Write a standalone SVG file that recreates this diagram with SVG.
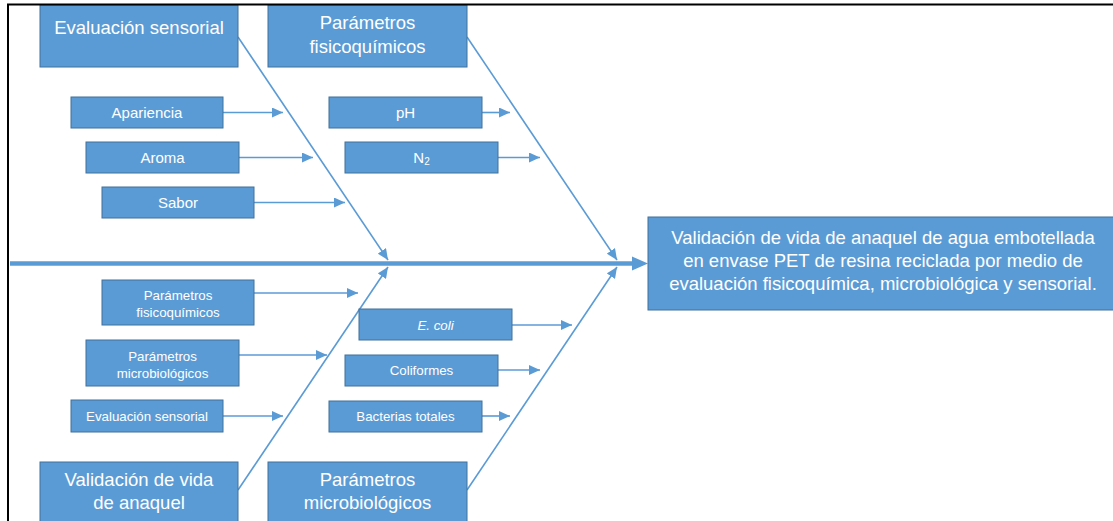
<svg xmlns="http://www.w3.org/2000/svg" width="1113" height="521" viewBox="0 0 1113 521">
<defs>
<style>
.box{fill:#5B9BD5;stroke:#41719C;stroke-width:1}
.t{fill:#fff;font-family:"Liberation Sans",Arial,sans-serif;text-anchor:middle}
.big{font-size:18.5px}
.mid{font-size:15px}
.sm{font-size:13.3px}
.ln{stroke:#5B9BD5;stroke-width:1.6;fill:none}
</style>
<marker id="ah" markerUnits="userSpaceOnUse" markerWidth="12" markerHeight="10" refX="11" refY="5" orient="auto">
<path d="M0,0 L11,5 L0,10 Z" fill="#5B9BD5"/>
</marker>
</defs>
<rect width="1113" height="521" fill="#fff"/>
<g id="connectors">
<line class="ln" x1="10" y1="263.5" x2="634" y2="263.5" style="stroke-width:4.5"/>
<path d="M632,256.5 L648,263.5 L632,270.5 Z" fill="#5B9BD5"/>
<line class="ln" x1="238" y1="37" x2="388" y2="260" marker-end="url(#ah)"/>
<line class="ln" x1="467" y1="37" x2="617" y2="260" marker-end="url(#ah)"/>
<line class="ln" x1="238" y1="490" x2="388" y2="267" marker-end="url(#ah)"/>
<line class="ln" x1="467" y1="490" x2="617" y2="267" marker-end="url(#ah)"/>
<line class="ln" x1="223" y1="112.5" x2="283" y2="112.5" marker-end="url(#ah)"/>
<line class="ln" x1="239" y1="157.5" x2="313" y2="157.5" marker-end="url(#ah)"/>
<line class="ln" x1="254" y1="202.5" x2="345" y2="202.5" marker-end="url(#ah)"/>
<line class="ln" x1="482" y1="112.5" x2="510" y2="112.5" marker-end="url(#ah)"/>
<line class="ln" x1="498" y1="157.5" x2="540" y2="157.5" marker-end="url(#ah)"/>
<line class="ln" x1="254" y1="293" x2="358" y2="293" marker-end="url(#ah)"/>
<line class="ln" x1="239" y1="355" x2="327" y2="355" marker-end="url(#ah)"/>
<line class="ln" x1="223" y1="416" x2="283" y2="416" marker-end="url(#ah)"/>
<line class="ln" x1="512" y1="325" x2="572" y2="325" marker-end="url(#ah)"/>
<line class="ln" x1="498" y1="370" x2="540" y2="370" marker-end="url(#ah)"/>
<line class="ln" x1="482" y1="416" x2="510" y2="416" marker-end="url(#ah)"/>
</g>
<g id="n-eval-sensorial"><rect class="box" x="40" y="5" width="198" height="62"/><text class="t big" x="139" y="34">Evaluación sensorial</text></g>
<g id="n-param-fq"><rect class="box" x="268" y="5" width="199" height="62"/><text class="t big" x="367.5" y="29">Parámetros</text><text class="t big" x="367.5" y="53">fisicoquímicos</text></g>
<g id="n-apariencia"><rect class="box" x="71" y="97" width="152" height="31"/><text class="t mid" x="147" y="118">Apariencia</text></g>
<g id="n-aroma"><rect class="box" x="86" y="142" width="153" height="31"/><text class="t mid" x="162.5" y="163">Aroma</text></g>
<g id="n-sabor"><rect class="box" x="102" y="187" width="152" height="31"/><text class="t mid" x="178" y="208">Sabor</text></g>
<g id="n-ph"><rect class="box" x="329" y="97" width="153" height="31"/><text class="t mid" x="405.5" y="118">pH</text></g>
<g id="n-n2"><rect class="box" x="345" y="142" width="153" height="31"/><text class="t mid" x="421.5" y="163">N<tspan font-size="10" dy="2">2</tspan></text></g>
<g id="n-main"><rect class="box" x="648" y="217" width="470" height="93"/><text class="t big" x="883" y="244">Validación de vida de anaquel de agua embotellada</text><text class="t big" x="883" y="267">en envase PET de resina reciclada por medio de</text><text class="t big" x="883" y="290">evaluación fisicoquímica, microbiológica y sensorial.</text></g>
<g id="n-sm-param-fq"><rect class="box" x="102" y="280" width="152" height="45"/><text class="t sm" x="178" y="300">Parámetros</text><text class="t sm" x="178" y="317">fisicoquímicos</text></g>
<g id="n-sm-param-micro"><rect class="box" x="86" y="340" width="153" height="46"/><text class="t sm" x="162.5" y="361">Parámetros</text><text class="t sm" x="162.5" y="378">microbiológicos</text></g>
<g id="n-sm-eval"><rect class="box" x="71" y="400" width="152" height="32"/><text class="t sm" x="147" y="421">Evaluación sensorial</text></g>
<g id="n-ecoli"><rect class="box" x="359" y="309" width="153" height="31"/><text class="t sm" x="435.5" y="330" font-style="italic">E. coli</text></g>
<g id="n-coliformes"><rect class="box" x="345" y="355" width="153" height="31"/><text class="t sm" x="421.5" y="375">Coliformes</text></g>
<g id="n-bacterias"><rect class="box" x="329" y="401" width="153" height="31"/><text class="t sm" x="405.5" y="421">Bacterias totales</text></g>
<g id="n-validacion"><rect class="box" x="40" y="462" width="198" height="64"/><text class="t big" x="139" y="486">Validación de vida</text><text class="t big" x="139" y="509">de anaquel</text></g>
<g id="n-param-micro"><rect class="box" x="268" y="462" width="199" height="64"/><text class="t big" x="367.5" y="486">Parámetros</text><text class="t big" x="367.5" y="509">microbiológicos</text></g>
<path d="M8,521 V4.5 H1113" fill="none" stroke="#000" stroke-width="2"/>
</svg>
